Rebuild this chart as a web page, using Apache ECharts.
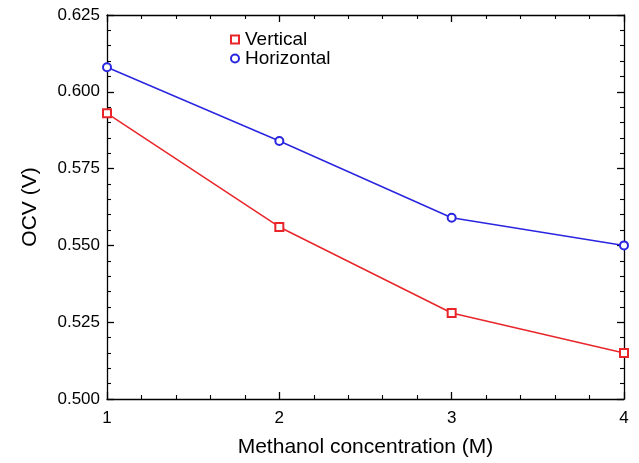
<!DOCTYPE html>
<html><head><meta charset="utf-8">
<script src="https://cdn.jsdelivr.net/npm/echarts@6/dist/echarts.min.js"></script>
<style>html,body{margin:0;padding:0;background:#fff}#c{width:639px;height:463px}</style>
</head><body><div id="c"></div>
<script>
const concentrations = [1, 2, 3, 4];
const vertical = [0.593, 0.556, 0.528, 0.515];
const horizontal = [0.608, 0.584, 0.559, 0.550];
const seriesNames = ['Vertical', 'Horizontal'];

const font = 'Liberation Sans, Arial, Helvetica, sans-serif';
const chart = echarts.init(document.getElementById('c'));
const axisCommon = {
  axisLine: {lineStyle: {color: '#000', width: 1.3}},
  axisTick: {inside: true, length: 7, lineStyle: {color: '#000', width: 1.3}},
  minorTick: {show: true, splitNumber: 5, length: 4, lineStyle: {color: '#000', width: 1.1}},
  splitLine: {show: false}
};
chart.setOption({
  animation: false,
  grid: {left: 107, right: 15, top: 15, bottom: 63},
  legend: {
    orient: 'vertical', left: 225, top: 25, itemGap: 0, itemWidth: 8, itemHeight: 8,
    textStyle: {fontFamily: font, fontSize: 19, color: '#000', padding: [0, 0, 0, 1]},
    data: [{name: seriesNames[0], icon: 'emptyRect'}, {name: seriesNames[1], icon: 'emptyCircle'}]
  },
  xAxis: [
    Object.assign({type: 'value', min: 1, max: 4, interval: 1, name: 'Methanol concentration (M)',
      nameLocation: 'middle', nameGap: 38, nameTextStyle: {fontFamily: font, fontSize: 21, color: '#000'},
      axisLabel: {fontFamily: font, fontSize: 17, color: '#000', margin: 11}}, axisCommon),
    Object.assign({type: 'value', min: 1, max: 4, interval: 1, position: 'top', axisLabel: {show: false}}, axisCommon)
  ],
  yAxis: [
    Object.assign({type: 'value', min: 0.5, max: 0.625, interval: 0.025, name: 'OCV (V)',
      nameLocation: 'middle', nameGap: 66, nameTextStyle: {fontFamily: font, fontSize: 21, color: '#000'},
      axisLabel: {fontFamily: font, fontSize: 17, color: '#000', margin: 7, formatter: v => v.toFixed(3)}}, axisCommon),
    Object.assign({type: 'value', min: 0.5, max: 0.625, interval: 0.025, position: 'right', axisLabel: {show: false}}, axisCommon)
  ],
  series: [
    {name: seriesNames[0], type: 'line', data: concentrations.map((x, i) => [x, vertical[i]]),
      symbol: 'emptyRect', symbolSize: 8, color: '#e8262a', lineStyle: {width: 1.5}, itemStyle: {borderWidth: 1.2}},
    {name: seriesNames[1], type: 'line', data: concentrations.map((x, i) => [x, horizontal[i]]),
      symbol: 'emptyCircle', symbolSize: 8, color: '#2a26e0', lineStyle: {width: 1.5}, itemStyle: {borderWidth: 1.2}}
  ]
});
</script></body></html>
